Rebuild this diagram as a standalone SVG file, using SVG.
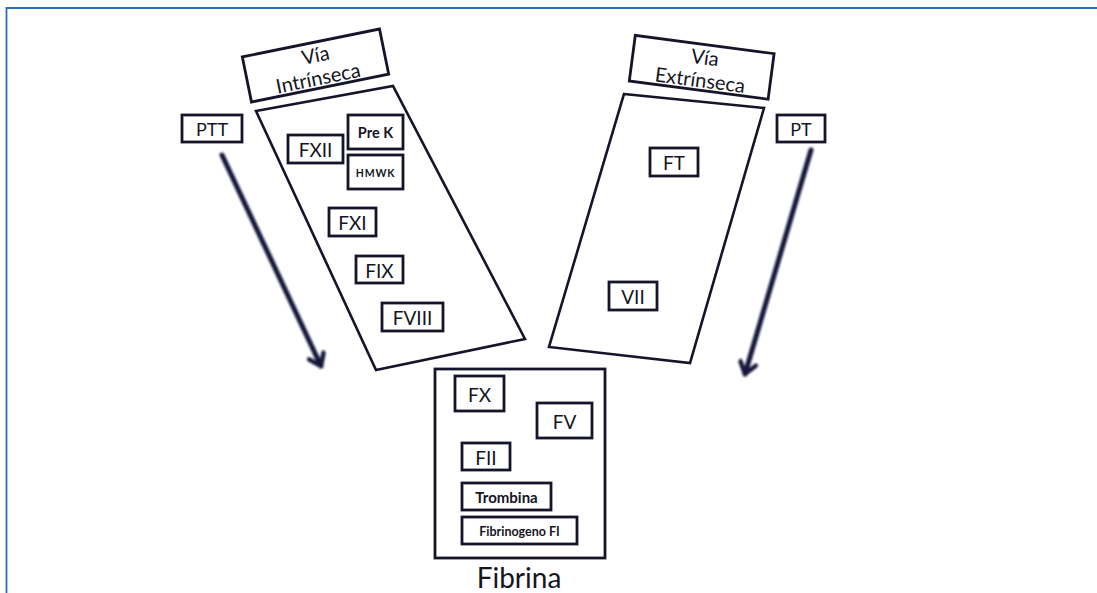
<svg xmlns="http://www.w3.org/2000/svg" width="1097" height="593" viewBox="0 0 1097 593">
  <style>
    .box { fill: #ffffff; stroke: #14142a; stroke-width: 2.8; }
    .panel { fill: #ffffff; stroke: #14142a; stroke-width: 2.6; stroke-linejoin: miter; }
    .lbl { font-family: Lato, "Liberation Sans", sans-serif; fill: #15151f; text-anchor: middle; dominant-baseline: central; }
    .flow { stroke: #14143a; stroke-width: 5; fill: none; stroke-linecap: round; filter: url(#soft); }
  </style>
  <defs>
    <filter id="soft" x="-20%" y="-20%" width="140%" height="140%">
      <feGaussianBlur stdDeviation="0.8"/>
    </filter>
    <marker id="chev" markerUnits="userSpaceOnUse" viewBox="0 0 20 20" refX="16" refY="10" markerWidth="20" markerHeight="20" orient="auto">
      <path d="M5,2 L16,10 L5,18" fill="none" stroke="#14143a" stroke-width="4.5" stroke-linecap="round" stroke-linejoin="round"/>
    </marker>
  </defs>

  <rect width="1097" height="593" fill="#ffffff"/>
  <!-- page frame -->
  <path d="M6.5,593 V8 H1097" fill="none" stroke="#2a6ebb" stroke-width="1.8"/>

  <!-- intrinsic pathway -->
  <g id="intrinseca">
    <g transform="translate(315.5,65.5) rotate(-11.5)">
      <rect class="box" x="-70" y="-23" width="140" height="46"/>
      <text class="lbl" x="2" y="-11" font-size="20">Vía</text>
      <text class="lbl" x="0" y="12" font-size="20">Intrínseca</text>
    </g>
    <polygon class="panel" points="256,111 393,86 525,339 376,370"/>
  </g>
  <g id="fxii"><rect class="box" x="288" y="135" width="55" height="28"/><text class="lbl" x="315.5" y="149.5" font-size="19">FXII</text></g>
  <g id="prek"><rect class="box" x="348" y="115" width="55" height="34"/><text class="lbl" x="375.5" y="132" font-size="14.5" font-weight="bold">Pre K</text></g>
  <g id="hmwk"><rect class="box" x="348" y="155" width="55" height="34"/><text class="lbl" x="375.5" y="173" font-size="10.5" font-weight="bold" letter-spacing="0.8">HMWK</text></g>
  <g id="fxi"><rect class="box" x="329" y="208" width="47" height="28"/><text class="lbl" x="352.5" y="222.5" font-size="19">FXI</text></g>
  <g id="fix"><rect class="box" x="356" y="256" width="47" height="27"/><text class="lbl" x="379.5" y="270" font-size="19">FIX</text></g>
  <g id="fviii"><rect class="box" x="382" y="303" width="61" height="28"/><text class="lbl" x="412.5" y="317.5" font-size="19">FVIII</text></g>
  <g id="ptt"><rect class="box" x="182" y="115" width="60" height="27"/><text class="lbl" x="212" y="129" font-size="18">PTT</text></g>

  <!-- extrinsic pathway -->
  <g id="extrinseca">
    <g transform="translate(701.7,67.3) rotate(7.5)">
      <rect class="box" x="-70" y="-23" width="140" height="46"/>
      <text class="lbl" x="2" y="-11" font-size="20">Vía</text>
      <text class="lbl" x="0" y="12" font-size="20">Extrínseca</text>
    </g>
    <polygon class="panel" points="624,94 764,108 690,363 549,347"/>
  </g>
  <g id="ft"><rect class="box" x="650" y="148" width="48" height="28"/><text class="lbl" x="674" y="162.5" font-size="19">FT</text></g>
  <g id="vii"><rect class="box" x="609" y="282" width="48" height="28"/><text class="lbl" x="633" y="296.5" font-size="19">VII</text></g>
  <g id="pt"><rect class="box" x="777" y="115" width="48" height="27"/><text class="lbl" x="801" y="129" font-size="18">PT</text></g>

  <!-- common pathway -->
  <g id="comun">
    <rect class="box" x="435" y="369" width="170" height="189"/>
    <text class="lbl" x="519" y="577" font-size="28">Fibrina</text>
  </g>
  <g id="fx"><rect class="box" x="455" y="376" width="49" height="35"/><text class="lbl" x="479.5" y="394" font-size="19">FX</text></g>
  <g id="fv"><rect class="box" x="537" y="403" width="55" height="35"/><text class="lbl" x="564.5" y="421" font-size="19">FV</text></g>
  <g id="fii"><rect class="box" x="462" y="443" width="48" height="27"/><text class="lbl" x="486" y="457" font-size="19">FII</text></g>
  <g id="trombina"><rect class="box" x="462" y="483" width="89" height="27"/><text class="lbl" x="506.5" y="497" font-size="15" font-weight="bold">Trombina</text></g>
  <g id="fibrinogeno"><rect class="box" x="462" y="517" width="115" height="27"/><text class="lbl" x="519.5" y="531" font-size="12.5" font-weight="bold">Fibrinogeno FI</text></g>

  <!-- connectors -->
  <g id="connectors">
    <line class="flow" x1="222" y1="155" x2="321" y2="366" marker-end="url(#chev)"/>
    <line class="flow" x1="811" y1="150" x2="745" y2="374" marker-end="url(#chev)"/>
  </g>
</svg>
